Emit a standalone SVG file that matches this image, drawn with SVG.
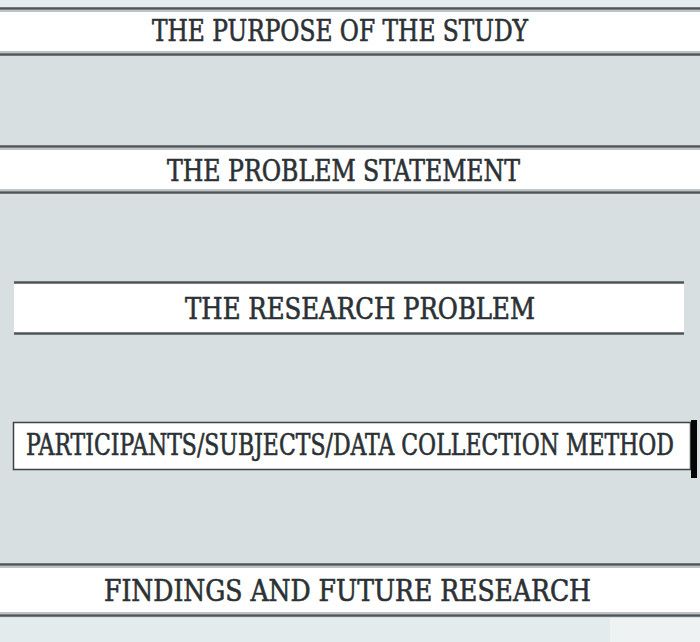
<svg xmlns="http://www.w3.org/2000/svg" width="700" height="642" viewBox="0 0 700 642">
<style>
.lbl{font-family:"DejaVu Serif","Liberation Serif",serif;font-stretch:condensed;font-size:29px;fill:#2b3134;stroke:#2b3134;stroke-width:0.6;text-anchor:start}
.fill{fill:#ffffff}
.rule{stroke:#4f5557;stroke-width:2.5}
.rule2{stroke:#a9b0b2;stroke-width:1.5}
</style>
<rect x="0" y="0" width="700" height="642" fill="#d8dfe1"/>
<rect x="0" y="0" width="700" height="7" fill="#e6ecee"/>
<rect x="0" y="618" width="700" height="24" fill="#e3ebed"/>
<rect x="610" y="618" width="90" height="24" fill="#eef2f3"/>

<g id="node1">
<rect class="fill" x="0" y="8" width="700" height="47"/>
<line class="rule" x1="0" y1="8.5" x2="700" y2="8.5"/>
<line class="rule2" x1="0" y1="11" x2="700" y2="11"/>
<line class="rule" x1="0" y1="54.5" x2="700" y2="54.5"/>
<line class="rule2" x1="0" y1="52" x2="700" y2="52"/>
<text class="lbl" x="152" y="41" textLength="376" lengthAdjust="spacingAndGlyphs">THE PURPOSE OF THE STUDY</text>
</g>

<g id="node2">
<rect class="fill" x="0" y="146" width="700" height="47"/>
<line class="rule" x1="0" y1="146.5" x2="700" y2="146.5"/>
<line class="rule2" x1="0" y1="149" x2="700" y2="149"/>
<line class="rule" x1="0" y1="192.5" x2="700" y2="192.5"/>
<line class="rule2" x1="0" y1="190" x2="700" y2="190"/>
<text class="lbl" x="167" y="181" textLength="353" lengthAdjust="spacingAndGlyphs">THE PROBLEM STATEMENT</text>
</g>

<g id="node3">
<rect class="fill" x="14" y="282" width="670" height="52"/>
<line class="rule" x1="14" y1="282.5" x2="684" y2="282.5"/>
<line class="rule" x1="14" y1="333.5" x2="684" y2="333.5"/>
<text class="lbl" x="185" y="319" textLength="350" lengthAdjust="spacingAndGlyphs">THE RESEARCH PROBLEM</text>
</g>

<g id="node4">
<rect class="fill" x="13.5" y="422.5" width="677" height="47" stroke="#3d4244" stroke-width="1.5"/>
<rect x="691" y="420" width="6" height="58" fill="#050505"/>
<text class="lbl" x="26" y="455" font-size="25" textLength="648" lengthAdjust="spacingAndGlyphs">PARTICIPANTS/SUBJECTS/DATA COLLECTION METHOD</text>
</g>

<g id="node5">
<rect class="fill" x="0" y="564" width="700" height="52"/>
<line class="rule" x1="0" y1="564.5" x2="700" y2="564.5"/>
<line class="rule2" x1="0" y1="567" x2="700" y2="567"/>
<line class="rule" x1="0" y1="615.5" x2="700" y2="615.5"/>
<line class="rule2" x1="0" y1="613" x2="700" y2="613"/>
<text class="lbl" x="104" y="601" textLength="487" lengthAdjust="spacingAndGlyphs">FINDINGS AND FUTURE RESEARCH</text>
</g>

<g id="connectors"></g>
</svg>
